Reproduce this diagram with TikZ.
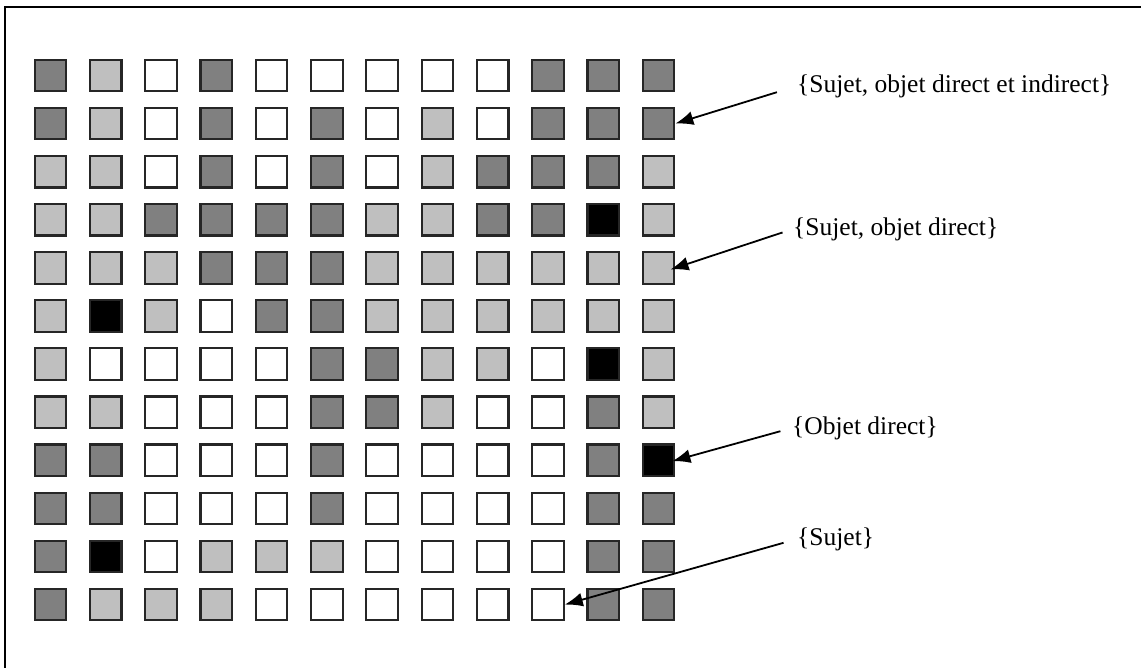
\documentclass[tikz,border=0pt]{standalone}
\usepackage{fontspec}
\setmainfont{Liberation Serif}
\usetikzlibrary{arrows.meta}

% cell shades
\definecolor{cD}{gray}{0.50}
\definecolor{cL}{gray}{0.75}
\definecolor{cW}{gray}{1.00}
\definecolor{cB}{gray}{0.00}

\tikzset{
  cell/.style={draw=black!85, line width=2.2pt, minimum size=31.5pt, inner sep=0pt, fill=#1},
  tag/.style={anchor=west, inner sep=0pt, font=\fontsize{25.5}{30}\selectfont},
  pointer/.style={line width=1.8pt, -{Latex[length=18pt, width=14pt]}}
}

\begin{document}
\begin{tikzpicture}[x=1pt, y=-1pt]
  \useasboundingbox (0,0) rectangle (1141,668);
  \begin{scope}
    \clip (0,0) rectangle (1141,668);
    \draw[line width=2.2pt] (5,7) rectangle (1160,690);
  \end{scope}

  % 12 x 12 grid of shaded cells
  \foreach \row [count=\r] in {
      {D,L,W,D,W,W,W,W,W,D,D,D},
      {D,L,W,D,W,D,W,L,W,D,D,D},
      {L,L,W,D,W,D,W,L,D,D,D,L},
      {L,L,D,D,D,D,L,L,D,D,B,L},
      {L,L,L,D,D,D,L,L,L,L,L,L},
      {L,B,L,W,D,D,L,L,L,L,L,L},
      {L,W,W,W,W,D,D,L,L,W,B,L},
      {L,L,W,W,W,D,D,L,W,W,D,L},
      {D,D,W,W,W,D,W,W,W,W,D,B},
      {D,D,W,W,W,D,W,W,W,W,D,D},
      {D,B,W,L,L,L,W,W,W,W,D,D},
      {D,L,L,L,W,W,W,W,W,W,D,D}} {
    \foreach \c [count=\k] in \row {
      \node[cell=c\c] (s-\r-\k) at ({50.5+(\k-1)*55.27}, {75.5+(\r-1)*48.1}) {};
    }
  }

  % labels
  \node[tag] (t1) at (797, 86)  {\{Sujet, objet direct et indirect\}};
  \node[tag] (t2) at (793, 229) {\{Sujet, objet direct\}};
  \node[tag] (t3) at (792, 428) {\{Objet direct\}};
  \node[tag] (t4) at (797, 539) {\{Sujet\}};

  % pointers from labels to cells
  \draw[pointer, shorten <=21pt] (t1.west) -- (s-2-12.east);
  \draw[pointer, shorten <=11pt, shorten >=-5pt] (t2.west) -- (s-5-12.east);
  \draw[pointer, shorten <=12pt, shorten >=-3pt] (t3.west) -- (s-9-12.east);
  \draw[pointer, shorten <=14pt] (t4.west) -- (s-12-10.east);
\end{tikzpicture}
\end{document}
